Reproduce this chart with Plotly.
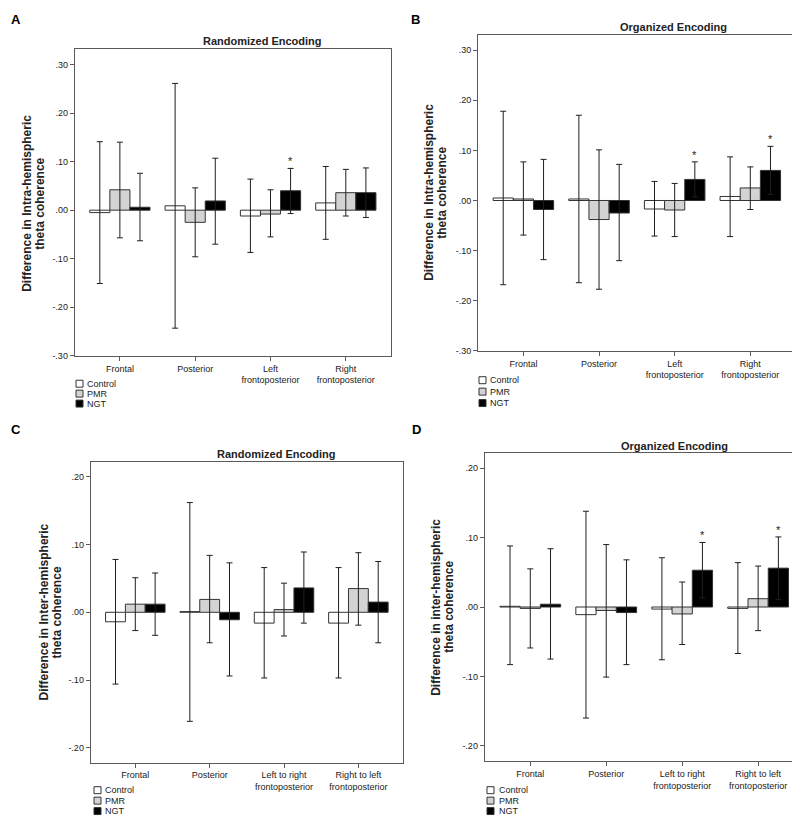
import plotly.graph_objects as go

# ---------------- data ----------------
groups = ["Control", "PMR", "NGT"]
categories_intra = ["Frontal", "Posterior", "Left<br>frontoposterior", "Right<br>frontoposterior"]
categories_inter = ["Frontal", "Posterior", "Left to right<br>frontoposterior", "Right to left<br>frontoposterior"]

yticks_intra = [-0.30, -0.20, -0.10, 0.00, 0.10, 0.20, 0.30]
yticklabels_intra = ["-.30", "-.20", "-.10", ".00", ".10", ".20", ".30"]
yticks_inter = [-0.20, -0.10, 0.00, 0.10, 0.20]
yticklabels_inter = ["-.20", "-.10", ".00", ".10", ".20"]

# Panel A: Intra-hemispheric, Randomized Encoding
A_control_mean = [-0.005, 0.009, -0.012, 0.015]
A_control_lo = [-0.151, -0.243, -0.087, -0.060]
A_control_hi = [0.141, 0.261, 0.064, 0.090]
A_pmr_mean = [0.042, -0.025, -0.008, 0.036]
A_pmr_lo = [-0.057, -0.096, -0.055, -0.012]
A_pmr_hi = [0.140, 0.046, 0.042, 0.084]
A_ngt_mean = [0.006, 0.019, 0.040, 0.036]
A_ngt_lo = [-0.063, -0.070, -0.007, -0.015]
A_ngt_hi = [0.076, 0.107, 0.086, 0.087]
A_sig = [False, False, True, False]

# Panel B: Intra-hemispheric, Organized Encoding
B_control_mean = [0.005, 0.003, -0.017, 0.008]
B_control_lo = [-0.168, -0.164, -0.071, -0.072]
B_control_hi = [0.178, 0.170, 0.038, 0.087]
B_pmr_mean = [0.003, -0.038, -0.019, 0.025]
B_pmr_lo = [-0.069, -0.177, -0.072, -0.018]
B_pmr_hi = [0.077, 0.101, 0.034, 0.067]
B_ngt_mean = [-0.018, -0.025, 0.042, 0.060]
B_ngt_lo = [-0.118, -0.120, 0.007, 0.012]
B_ngt_hi = [0.082, 0.072, 0.077, 0.108]
B_sig = [False, False, True, True]

# Panel C: Inter-hemispheric, Randomized Encoding
C_control_mean = [-0.014, 0.001, -0.016, -0.016]
C_control_lo = [-0.106, -0.161, -0.097, -0.097]
C_control_hi = [0.078, 0.162, 0.066, 0.066]
C_pmr_mean = [0.012, 0.019, 0.004, 0.035]
C_pmr_lo = [-0.027, -0.045, -0.035, -0.019]
C_pmr_hi = [0.051, 0.084, 0.043, 0.088]
C_ngt_mean = [0.012, -0.011, 0.036, 0.015]
C_ngt_lo = [-0.034, -0.094, -0.016, -0.045]
C_ngt_hi = [0.058, 0.073, 0.089, 0.075]
C_sig = [False, False, False, False]

# Panel D: Inter-hemispheric, Organized Encoding
D_control_mean = [0.001, -0.011, -0.003, -0.002]
D_control_lo = [-0.083, -0.160, -0.076, -0.067]
D_control_hi = [0.088, 0.138, 0.071, 0.064]
D_pmr_mean = [-0.002, -0.005, -0.010, 0.012]
D_pmr_lo = [-0.059, -0.101, -0.054, -0.034]
D_pmr_hi = [0.055, 0.090, 0.036, 0.059]
D_ngt_mean = [0.004, -0.008, 0.053, 0.056]
D_ngt_lo = [-0.075, -0.083, 0.013, 0.011]
D_ngt_hi = [0.084, 0.068, 0.093, 0.101]
D_sig = [False, False, True, True]

# ---------------- styling ----------------
W, H = 800, 818
FONT = "Arial, 'Liberation Sans', sans-serif"
fills = {"Control": "#ffffff", "PMR": "#d3d3d3", "NGT": "#000000"}
EDGE = "#333333"
FRAME = "#5a5a5a"
TXT = "#222222"
BARGAP = 0.2
TITLE_LINE_GAP = 13


def px(x):
    return x / W


def py(y):
    return 1 - y / H


panels = [
    dict(key="A", n="", cats=categories_intra, yt=yticks_intra, ytl=yticklabels_intra, yr=[-0.30, 0.331],
         data=[(A_control_mean, A_control_lo, A_control_hi), (A_pmr_mean, A_pmr_lo, A_pmr_hi),
               (A_ngt_mean, A_ngt_lo, A_ngt_hi)], sig=A_sig,
         dom=(66.7, 383, 41.7, 350), title="Randomized Encoding", tpos=(255, 33),
         ytitle=["Difference in Intra-hemispheric", "theta coherence"], ypos=(25.5, 197),
         label_pos=(8, 12), leg=(68, 77, [378, 388, 398])),
    dict(key="B", n="2", cats=categories_intra, yt=yticks_intra, ytl=yticklabels_intra, yr=[-0.30, 0.331],
         data=[(B_control_mean, B_control_lo, B_control_hi), (B_pmr_mean, B_pmr_lo, B_pmr_hi),
               (B_ngt_mean, B_ngt_lo, B_ngt_hi)], sig=B_sig,
         dom=(470, 787.7, 26.7, 345), title="Organized Encoding", tpos=(665, 19),
         ytitle=["Difference in Intra-hemispheric", "theta coherence"], ypos=(427.5, 186),
         label_pos=(407, 12), leg=(471, 480, [374.5, 386, 397.5])),
    dict(key="C", n="3", cats=categories_inter, yt=yticks_inter, ytl=yticklabels_inter, yr=[-0.222, 0.222],
         data=[(C_control_mean, C_control_lo, C_control_hi), (C_pmr_mean, C_pmr_lo, C_pmr_hi),
               (C_ngt_mean, C_ngt_lo, C_ngt_hi)], sig=C_sig,
         dom=(82.7, 395, 456.7, 759.3), title="Randomized Encoding", tpos=(268.7, 449),
         ytitle=["Difference in Inter-hemispheric", "theta coherence"], ypos=(42.7, 608),
         label_pos=(8, 424), leg=(86, 95, [787, 797.5, 808])),
    dict(key="D", n="4", cats=categories_inter, yt=yticks_inter, ytl=yticklabels_inter, yr=[-0.222, 0.222],
         data=[(D_control_mean, D_control_lo, D_control_hi), (D_pmr_mean, D_pmr_lo, D_pmr_hi),
               (D_ngt_mean, D_ngt_lo, D_ngt_hi)], sig=D_sig,
         dom=(476.7, 795.7, 447.7, 757.7), title="Organized Encoding", tpos=(666.7, 440.7),
         ytitle=["Difference in inter-hemispheric", "theta coherence"], ypos=(435, 603),
         label_pos=(408, 424), leg=(479, 488.5, [787, 797.5, 808])),
]

fig = go.Figure()
annotations = []
shapes = []
layout_axes = {}

for p in panels:
    xa = "x" + p["n"]
    ya = "y" + p["n"]
    for g, (mean, lo, hi) in zip(groups, p["data"]):
        fig.add_trace(go.Bar(
            x=p["cats"], y=mean, name=g, showlegend=False,
            xaxis=xa, yaxis=ya, offsetgroup=g,
            marker=dict(color=fills[g], line=dict(color=EDGE, width=1)),
            error_y=dict(type="data", symmetric=False,
                         array=[h - m for h, m in zip(hi, mean)],
                         arrayminus=[m - l for m, l in zip(mean, lo)],
                         color="#1e1e1e", thickness=1, width=3),
        ))
    # significance stars above NGT
    ngt_mean, ngt_lo, ngt_hi = p["data"][2]
    bw = (1 - BARGAP) / 3
    for i, s in enumerate(p["sig"]):
        if s:
            annotations.append(dict(x=i + bw, y=ngt_hi[i], xref=xa, yref=ya, text="*",
                                    showarrow=False, yanchor="bottom", yshift=-1,
                                    font=dict(family=FONT, size=11, color=TXT)))
    x0, x1, y0, y1 = p["dom"]
    layout_axes["xaxis" + p["n"]] = dict(
        domain=[px(x0), px(x1)], anchor=ya, type="category", range=[-0.6, 3.6],
        showline=True, mirror=True, linecolor=FRAME, linewidth=1,
        ticks="outside", ticklen=4, tickcolor=FRAME, showgrid=False, zeroline=False,
        tickfont=dict(family=FONT, size=9, color=TXT),
    )
    layout_axes["yaxis" + p["n"]] = dict(
        domain=[py(y1), py(y0)], anchor=xa, range=p["yr"],
        tickvals=p["yt"], ticktext=p["ytl"],
        showline=True, mirror=True, linecolor=FRAME, linewidth=1,
        ticks="outside", ticklen=4, tickcolor=FRAME, showgrid=False, zeroline=False,
        tickfont=dict(family=FONT, size=9, color=TXT),
    )
    # title
    annotations.append(dict(x=px(p["tpos"][0]), y=py(p["tpos"][1]), xref="paper", yref="paper",
                            text=p["title"], showarrow=False,
                            xanchor="center", yanchor="middle",
                            font=dict(family=FONT, size=11, color=TXT, weight="bold")))
    # y-axis title: one centred annotation per line
    nlines = len(p["ytitle"])
    for k, line in enumerate(p["ytitle"]):
        off = (k - (nlines - 1) / 2) * TITLE_LINE_GAP
        annotations.append(dict(x=px(p["ypos"][0] + off), y=py(p["ypos"][1]), xref="paper", yref="paper",
                                text=line, showarrow=False, textangle=-90,
                                xanchor="center", yanchor="middle",
                                font=dict(family=FONT, size=12, color=TXT, weight="bold")))
    # panel letter
    annotations.append(dict(x=px(p["label_pos"][0]), y=py(p["label_pos"][1]), xref="paper", yref="paper",
                            text=p["key"], showarrow=False,
                            xanchor="center", yanchor="middle",
                            font=dict(family=FONT, size=13, color="#000", weight="bold")))
    # legend (swatch + label)
    sx, tx, ys = p["leg"]
    for g, yy in zip(groups, ys):
        shapes.append(dict(type="rect", xref="paper", yref="paper",
                           x0=px(sx), x1=px(sx + 7), y0=py(yy + 3.5), y1=py(yy - 3.5),
                           fillcolor=fills[g], line=dict(color=EDGE, width=1)))
        annotations.append(dict(x=px(tx), y=py(yy), xref="paper", yref="paper", text=g,
                                showarrow=False, xanchor="left", yanchor="middle",
                                font=dict(family=FONT, size=9, color=TXT)))

fig.update_layout(
    width=W, height=H, margin=dict(l=0, r=0, t=0, b=0),
    paper_bgcolor="white", plot_bgcolor="white",
    barmode="group", bargap=BARGAP, bargroupgap=0,
    showlegend=False, annotations=annotations, shapes=shapes,
    **layout_axes,
)

fig.write_html("out.html")
